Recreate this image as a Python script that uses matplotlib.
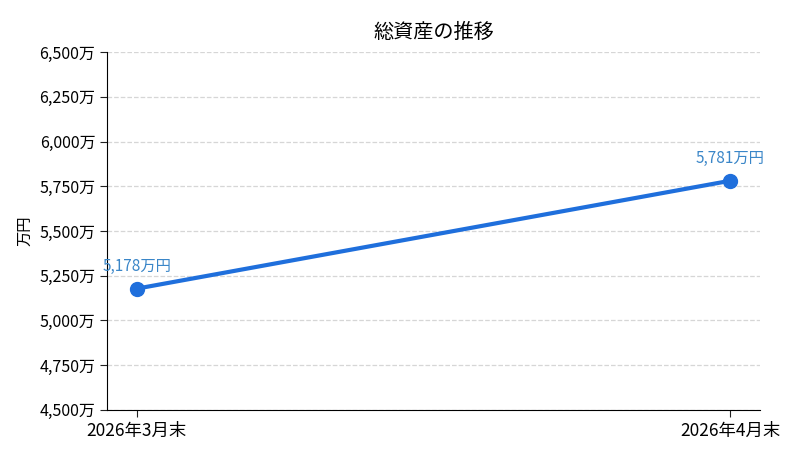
import matplotlib
matplotlib.use('Agg')
import matplotlib.pyplot as plt
from matplotlib.ticker import FuncFormatter, MultipleLocator

plt.rcParams['font.family'] = ['Noto Sans CJK JP', 'DejaVu Sans']

# データ
labels = ['2026年3月末', '2026年4月末']
total_assets = [5178, 5781]  # 万円

fig = plt.figure(figsize=(8, 4.57), dpi=100)
ax = fig.add_axes([0.134, 0.103, 0.816, 0.783])

x = list(range(len(labels)))
ax.plot(x, total_assets, color='#1f6fdc', linewidth=3, marker='o', markersize=10, zorder=3)

for xi, v in zip(x, total_assets):
    ax.annotate(f'{v:,}万円', (xi, v), textcoords='offset points', xytext=(0, 10),
                ha='center', va='bottom', fontsize=11, color='#3a86c8')

ax.set_xlim(-0.05, 1.05)
ax.set_ylim(4500, 6500)
ax.yaxis.set_major_locator(MultipleLocator(250))
ax.yaxis.set_major_formatter(FuncFormatter(lambda v, p: f'{int(v):,}万'))
ax.set_xticks(x)
ax.set_xticklabels(labels, fontsize=12.5)
ax.tick_params(axis='y', labelsize=11.5)
ax.tick_params(length=5, color='#222222')

ax.set_ylabel('万円', fontsize=11)
ax.set_title('総資産の推移', fontsize=14.5, pad=10)

ax.grid(axis='y', linestyle='--', color='#cccccc', linewidth=0.9, alpha=0.8)
ax.set_axisbelow(True)
ax.spines['top'].set_visible(False)
ax.spines['right'].set_visible(False)

fig.savefig('out.png', dpi=100)
